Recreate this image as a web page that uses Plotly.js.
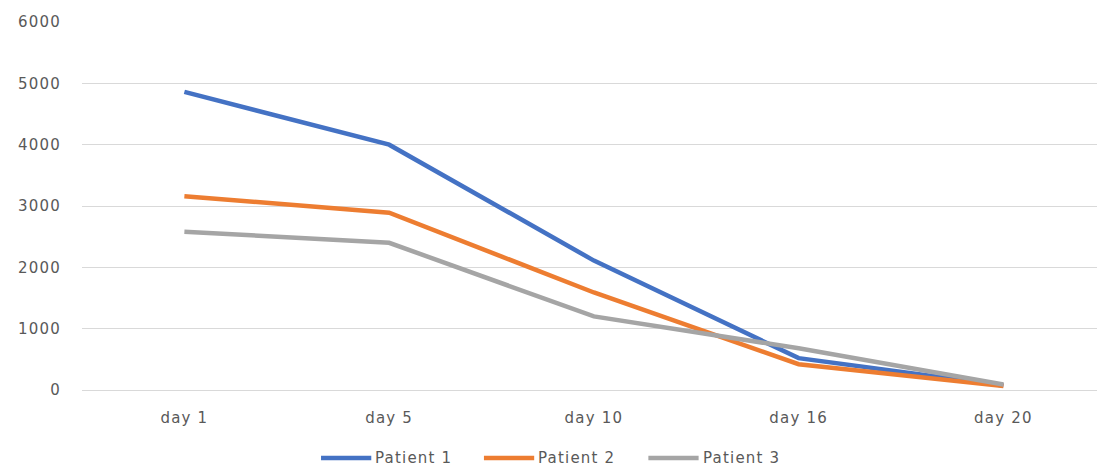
<!DOCTYPE html>
<html>
<head>
<meta charset="utf-8">
<script src="https://cdn.plot.ly/plotly-3.0.1.min.js"></script>
<style>
  html, body { margin: 0; padding: 0; background: #ffffff; }
  #chart { width: 1097px; height: 466px; }
  /* slightly wider tracking for every label (also applies to Plotly's text measurer) */
  svg text { letter-spacing: 1.2px; }
</style>
</head>
<body>
<div id="chart"></div>
<script>
// Measurements per patient over the treatment days
const days = ['day 1', 'day 5', 'day 10', 'day 16', 'day 20'];
const seriesNames = ['Patient 1', 'Patient 2', 'Patient 3'];
const patient1 = [4860, 4000, 2110, 520, 75];
const patient2 = [3160, 2890, 1590, 420, 65];
const patient3 = [2580, 2400, 1200, 680, 90];
const seriesColors = ['#4472C4', '#ED7D31', '#A5A5A5'];

const seriesValues = [patient1, patient2, patient3];
const textColor = '#595959';
const fontFamily = 'DejaVu Sans, sans-serif';

const traces = seriesValues.map((vals, i) => ({
  type: 'scatter',
  mode: 'lines',
  x: days,
  y: vals,
  name: seriesNames[i],
  line: { color: seriesColors[i], width: 4.5 },
  showlegend: false,
  hoverinfo: 'x+y+name'
}));

// Legend drawn beneath the plot: a long line sample followed by the series name
const legendY = -0.185;
const legendStarts = [0.2355, 0.3960, 0.5580];
const sampleLen = 0.0495;
const shapes = [];
const annotations = [];
seriesNames.forEach((name, i) => {
  const x0 = legendStarts[i];
  shapes.push({
    type: 'line', xref: 'paper', yref: 'paper',
    x0: x0, x1: x0 + sampleLen, y0: legendY, y1: legendY,
    line: { color: seriesColors[i], width: 4.5 }
  });
  annotations.push({
    xref: 'paper', yref: 'paper',
    x: x0 + sampleLen + 0.002, y: legendY,
    xanchor: 'left', yanchor: 'middle',
    text: name, showarrow: false,
    font: { family: fontFamily, size: 15, color: textColor }
  });
});

const layout = {
  width: 1097,
  height: 466,
  margin: { l: 82, r: 0, t: 22, b: 76, pad: 0 },
  paper_bgcolor: '#ffffff',
  plot_bgcolor: '#ffffff',
  font: { family: fontFamily, size: 15, color: textColor },
  showlegend: false,
  xaxis: {
    type: 'category',
    range: [-0.5, 4.457],
    showgrid: false,
    zeroline: false,
    showline: false,
    ticks: '',
    ticklabelstandoff: 17,
    tickfont: { family: fontFamily, size: 15, color: textColor },
    fixedrange: true
  },
  yaxis: {
    range: [0, 6000],
    dtick: 1000,
    tick0: 0,
    showgrid: true,
    gridcolor: '#d9d9d9',
    gridwidth: 1,
    zeroline: true,
    zerolinecolor: '#d9d9d9',
    zerolinewidth: 1,
    showline: false,
    ticks: '',
    ticklabelstandoff: 20,
    tickfont: { family: fontFamily, size: 15, color: textColor },
    fixedrange: true
  },
  shapes: shapes,
  annotations: annotations
};

Plotly.newPlot('chart', traces, layout, { displayModeBar: false, staticPlot: true });
</script>
</body>
</html>
